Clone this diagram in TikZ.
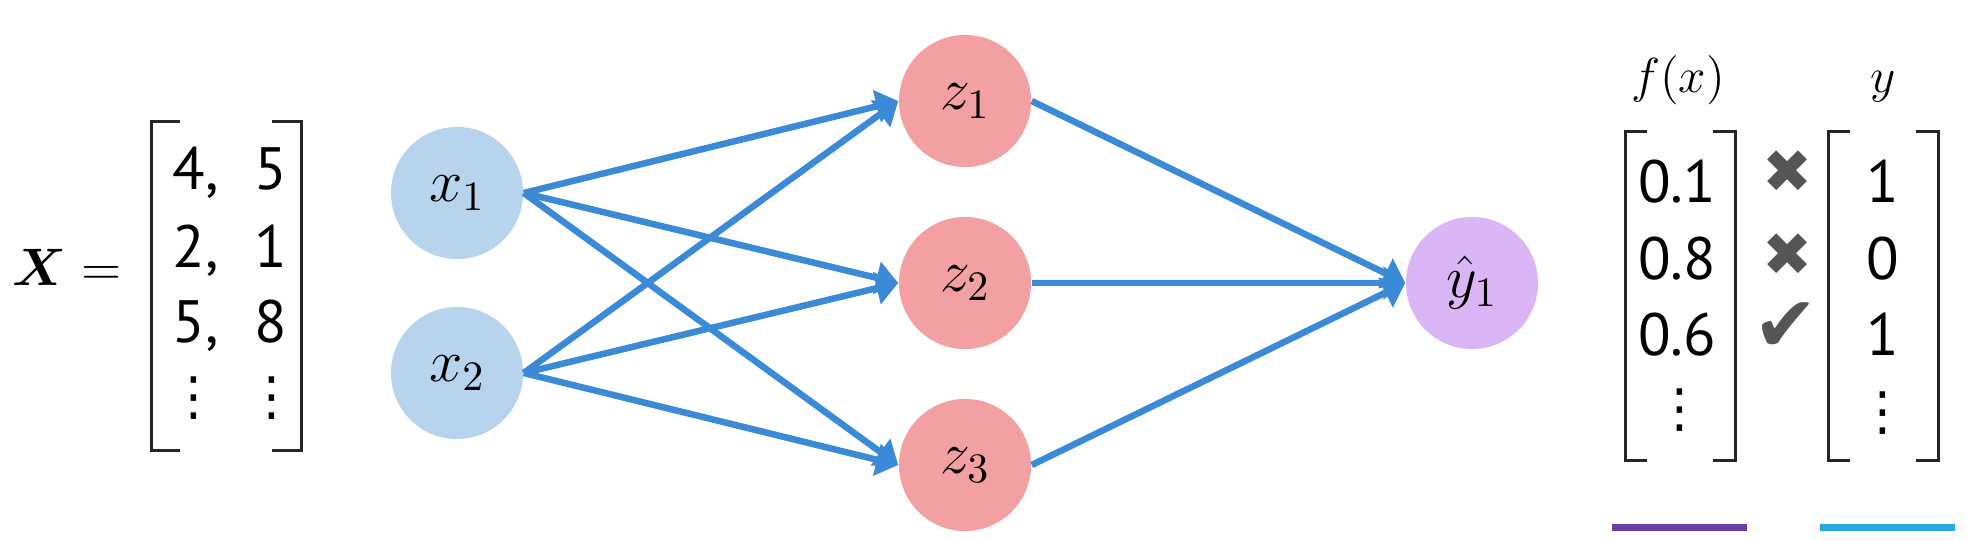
\RequirePackage{fix-cm}
\documentclass[tikz,border=0pt]{standalone}
\usepackage{amsmath}
\usepackage{fontspec}
\newfontfamily\numfont{PT Sans}
\newfontfamily\markfont{DejaVu Sans}
\usepackage{tikz}
\usetikzlibrary{arrows.meta}

\definecolor{inblue}{HTML}{B7D3EE}
\definecolor{hidpink}{HTML}{F2A0A2}
\definecolor{outlav}{HTML}{DAB6F7}
\definecolor{linkblue}{HTML}{3A8AD8}
\definecolor{barpurple}{HTML}{6E3DA2}
\definecolor{barblue}{HTML}{26A8E0}
\definecolor{markgray}{HTML}{555555}

\begin{document}
\begin{tikzpicture}[x=0.01cm, y=-0.01cm,
	neuron/.style={circle, draw=none, minimum size=1.32cm, inner sep=0pt, font=\fontsize{17}{20}\selectfont},
	conn/.style={draw=linkblue, line width=0.065cm, -{Triangle[length=0.22cm, width=0.32cm]}},
	brak/.style={draw=black!85, line width=0.03cm},
	entry/.style={inner sep=0pt, anchor=base, font=\numfont\fontsize{17}{20}\selectfont},
	dotcol/.style={inner sep=0pt, font=\markfont\fontsize{15}{17}\selectfont},
	tick/.style={inner sep=0pt, text=markgray, font=\markfont\fontsize{17}{19}\selectfont},
	bar/.style={line width=0.07cm}]
	\useasboundingbox (0,0) rectangle (1977,540);

	% input matrix
	\node[inner sep=0pt, font=\fontsize{15}{18}\selectfont] (Xlab) at (67,267) {$\boldsymbol{X} =$};
	\draw[brak] (180,122) -- (151,122) -- (151,450) -- (180,450);
	\draw[brak] (272,122) -- (301,122) -- (301,450) -- (272,450);
	\node[entry, anchor=base west] (m11) at (172,190) {4,};
	\node[entry] (m12) at (271,190) {5};
	\node[entry, anchor=base west] (m21) at (172,268) {2,};
	\node[entry] (m22) at (271,268) {1};
	\node[entry, anchor=base west] (m31) at (172,343) {5,};
	\node[entry] (m32) at (271,343) {8};
	\node[dotcol] (m41) at (194,398) {⋮};
	\node[dotcol] (m42) at (272,398) {⋮};

	% network
	\node[neuron, fill=inblue] (x1) at (457,193) {$x_1$};
	\node[neuron, fill=inblue] (x2) at (457,373) {$x_2$};
	\node[neuron, fill=hidpink] (z1) at (965,101) {$z_1$};
	\node[neuron, fill=hidpink] (z2) at (965,283) {$z_2$};
	\node[neuron, fill=hidpink] (z3) at (965,465) {$z_3$};
	\node[neuron, fill=outlav] (yh) at (1472,283) {$\hat{y}_1$};
	\draw[conn] (x1.east) -- (z1.west);
	\draw[conn] (x1.east) -- (z2.west);
	\draw[conn] (x1.east) -- (z3.west);
	\draw[conn] (x2.east) -- (z1.west);
	\draw[conn] (x2.east) -- (z2.west);
	\draw[conn] (x2.east) -- (z3.west);
	\draw[conn] (z1.east) -- (yh.west);
	\draw[conn] (z2.east) -- (yh.west);
	\draw[conn] (z3.east) -- (yh.west);

	% predictions vs labels
	\node[inner sep=0pt, anchor=base, font=\fontsize{14}{16}\selectfont] (fx) at (1678,93) {$f(x)$};
	\node[inner sep=0pt, anchor=base, font=\fontsize{14}{16}\selectfont] (ylab) at (1883,93) {$y$};
	\draw[brak] (1647,132) -- (1625,132) -- (1625,460) -- (1647,460);
	\draw[brak] (1713,132) -- (1735,132) -- (1735,460) -- (1713,460);
	\draw[brak] (1850,132) -- (1828,132) -- (1828,460) -- (1850,460);
	\draw[brak] (1916,132) -- (1938,132) -- (1938,460) -- (1916,460);
	\node[entry] (f1) at (1677,203) {0.1};
	\node[entry] (f2) at (1677,280) {0.8};
	\node[entry] (f3) at (1677,355) {0.6};
	\node[dotcol] (f4) at (1680,410) {⋮};
	\node[entry] (t1) at (1883,203) {1};
	\node[entry] (t2) at (1883,280) {0};
	\node[entry] (t3) at (1883,355) {1};
	\node[dotcol] (t4) at (1883,413) {⋮};
	\node[tick] (c1) at (1788,172) {✖};
	\node[tick] (c2) at (1788,255) {✖};
	\node[tick, font=\markfont\fontsize{22}{24}\selectfont] (c3) at (1786,327) {✔};
	\draw[bar, barpurple] (1612,527) -- (1747,527);
	\draw[bar, barblue] (1820,527) -- (1955,527);
\end{tikzpicture}
\end{document}
